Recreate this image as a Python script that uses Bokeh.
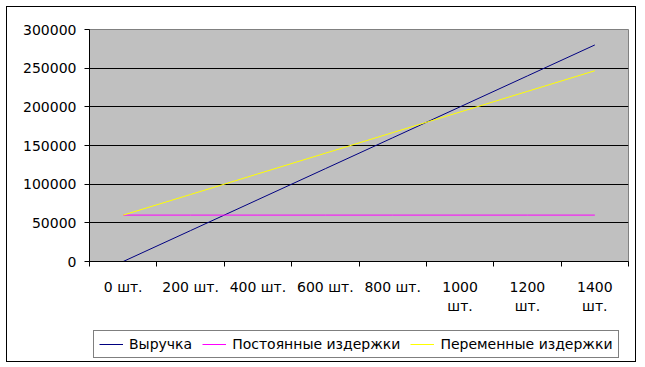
from bokeh.plotting import figure
from bokeh.layouts import column
from bokeh.models import FixedTicker, Legend, LegendItem, Range1d, BasicTickFormatter
from bokeh.embed import file_html
from bokeh.resources import INLINE

# ---- data ----
categories = ["0 шт.", "200 шт.", "400 шт.", "600 шт.", "800 шт.", "1000 шт.", "1200 шт.", "1400 шт."]
tick_labels = ["0 шт.", "200 шт.", "400 шт.", "600 шт.", "800 шт.", "1000\nшт.", "1200\nшт.", "1400\nшт."]
revenue = [0, 40000, 80000, 120000, 160000, 200000, 240000, 280000]
fixed_costs = [60000, 60000, 60000, 60000, 60000, 60000, 60000, 60000]
variable_costs = [60000, 86667, 113333, 140000, 166667, 193333, 220000, 246667]
y_ticks = [0, 50000, 100000, 150000, 200000, 250000, 300000]
series_names = ["Выручка", "Постоянные издержки", "Переменные издержки"]
series_colors = ["#000080", "#FF00FF", "#FFFF00"]
series_values = [revenue, fixed_costs, variable_costs]

FONT = "DejaVu Sans"
xs = list(range(len(categories)))

p = figure(width=630, height=309,
           x_range=Range1d(-0.5, len(categories) - 0.5),
           y_range=Range1d(y_ticks[0], y_ticks[-1]),
           output_backend="svg", toolbar_location=None,
           min_border_left=82, min_border_right=7,
           min_border_top=22, min_border_bottom=55)
p.background_fill_color = "#C0C0C0"
p.border_fill_color = "white"
p.outline_line_color = "#808080"
p.outline_line_width = 1

# grid
p.xgrid.visible = False
p.ygrid.ticker = FixedTicker(ticks=y_ticks[1:-1])
p.ygrid.grid_line_color = "black"
p.ygrid.grid_line_width = 1

# y axis
p.yaxis.ticker = FixedTicker(ticks=y_ticks)
p.yaxis.formatter = BasicTickFormatter(use_scientific=False)
p.yaxis.major_label_text_font = FONT
p.yaxis.major_label_text_font_size = "14px"
p.yaxis.major_label_text_color = "black"
p.yaxis.axis_line_color = "black"
p.yaxis.major_tick_line_color = "black"
p.yaxis.major_tick_in = 0
p.yaxis.major_tick_out = 5
p.yaxis.minor_tick_line_color = None
p.yaxis.major_label_standoff = 8

# x axis
p.xaxis.ticker = FixedTicker(ticks=xs, minor_ticks=[i - 0.5 for i in range(len(categories) + 1)])
p.xaxis.major_label_overrides = {i: lab for i, lab in zip(xs, tick_labels)}
p.xaxis.major_label_text_font = FONT
p.xaxis.major_label_text_font_size = "14px"
p.xaxis.major_label_text_color = "black"
p.xaxis.axis_line_color = "black"
p.xaxis.major_tick_line_color = None
p.xaxis.major_tick_in = 0
p.xaxis.major_tick_out = 0
p.xaxis.minor_tick_line_color = "black"
p.xaxis.minor_tick_in = 0
p.xaxis.minor_tick_out = 5
p.xaxis.major_label_standoff = 12

for vals, col in zip(series_values, series_colors):
    p.line(xs, vals, line_color=col, line_width=1)

# ---- legend strip (separate figure so the legend is not clipped) ----
lf = figure(width=630, height=45, x_range=Range1d(100, 101), y_range=Range1d(0, 1),
            output_backend="svg", toolbar_location=None,
            x_axis_location=None, y_axis_location=None,
            min_border=0, min_border_left=0, min_border_right=0,
            min_border_top=0, min_border_bottom=0)
lf.xgrid.visible = False
lf.ygrid.visible = False
lf.outline_line_color = None
lf.background_fill_color = "white"
lf.border_fill_color = "white"

items = []
for vals, col, name in zip(series_values, series_colors, series_names):
    r = lf.line(xs, vals, line_color=col, line_width=1)
    items.append(LegendItem(label=name, renderers=[r]))

legend = Legend(items=items, location=(4, 3), orientation="horizontal")
legend.label_text_font = FONT
legend.label_text_font_size = "14px"
legend.label_text_color = "black"
legend.border_line_color = "black"
legend.border_line_width = 1
legend.background_fill_color = "white"
legend.background_fill_alpha = 1
legend.glyph_width = 24
legend.glyph_height = 14
legend.label_standoff = 6
legend.spacing = 10
legend.padding = 5
legend.margin = 0
legend.label_height = 14
lf.add_layout(legend)

lay = column(p, lf, spacing=0)
lay.styles = {"border": "1px solid black", "margin-left": "6px", "margin-top": "6px",
              "width": "630px"}

open("out.html", "w").write(file_html(lay, INLINE))
